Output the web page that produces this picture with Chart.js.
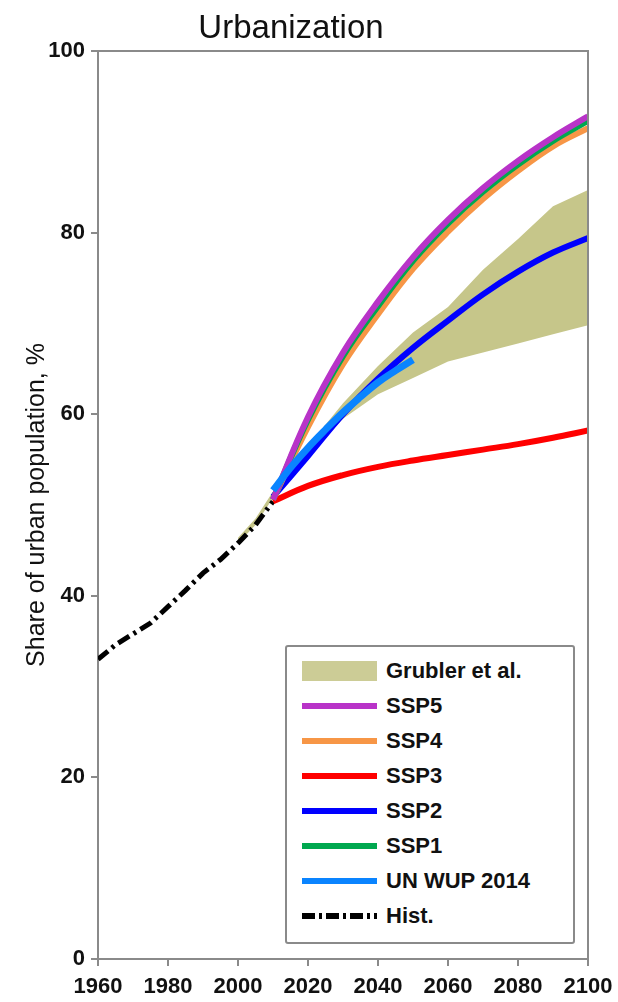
<!DOCTYPE html>
<html>
<head>
<meta charset="utf-8">
<script src="https://cdn.jsdelivr.net/npm/chart.js@4"></script>
<style>
  body { margin: 0; background: #fff; }
  #wrap { position: relative; width: 618px; height: 1002px; font-family: "Liberation Sans", Arial, sans-serif; }
  #title { position: absolute; left: 0; top: 10px; width: 582px; text-align: center; font-size: 33px; line-height: 33px; color: #111; }
  #legend { position: absolute; left: 285px; top: 645px; width: 290px; height: 299px; box-sizing: border-box;
            border: 2px solid #8a8a8a; border-radius: 3px; background: #fff; }
  .row { position: absolute; left: 0; height: 30px; width: 280px; }
  .sw { position: absolute; left: 15px; top: 12px; width: 75px; height: 6px; }
  .lbl { position: absolute; left: 99px; top: 0; line-height: 30px; white-space: nowrap; font-weight: bold; font-size: 22px; color: #111; }
</style>
</head>
<body>
<div id="wrap">
  <canvas id="chart" width="618" height="1002"></canvas>
  <div id="title">Urbanization</div>
  <div id="legend"></div>
</div>
<script>
// Дані
const histYears = [1960, 1965, 1970, 1975, 1980, 1985, 1990, 1995, 2000, 2005, 2010];
const histShare = [33, 34.6, 35.8, 37, 38.8, 40.6, 42.5, 44, 45.8, 47.8, 50.4];

const sspYears = [2010, 2020, 2030, 2040, 2050, 2060, 2070, 2080, 2090, 2100];
const ssp5 = [50.6, 59.7, 66.8, 72.4, 77.3, 81.4, 84.9, 87.9, 90.5, 92.8];
const ssp1 = [50.6, 59.4, 66.4, 71.9, 76.9, 81, 84.5, 87.5, 90.1, 92.3];
const ssp4 = [50.6, 58.6, 65.5, 71, 76, 80.1, 83.7, 86.8, 89.5, 91.5];
const ssp2 = [50.9, 55.4, 60, 63.9, 67.3, 70.3, 73.2, 75.7, 77.8, 79.4];
const ssp3 = [50.4, 52.1, 53.3, 54.2, 54.9, 55.5, 56.1, 56.7, 57.4, 58.2];

const wupYears = [2010, 2015, 2020, 2025, 2030, 2035, 2040, 2045, 2050];
const wup2014 = [51.6, 54.1, 56.3, 58.3, 60.2, 61.9, 63.5, 64.8, 66];

const grublerYears = [2000, 2005, 2010, 2020, 2030, 2040, 2050, 2060, 2070, 2080, 2090, 2100];
const grublerLow = [45.8, 47.8, 50.8, 55.5, 59.5, 62.2, 64, 65.8, 66.8, 67.8, 68.8, 69.8];
const grublerHigh = [46.4, 48.5, 51.5, 56.5, 61.2, 65.3, 69, 71.8, 75.9, 79.3, 82.9, 84.7];

const xTicks = [1960, 1980, 2000, 2020, 2040, 2060, 2080, 2100];
const yTicks = [0, 20, 40, 60, 80, 100];

const toPoints = (xs, ys) => xs.map((x, i) => ({ x: x, y: ys[i] }));

const band = "rgb(198, 198, 138)";
const colors = {
    ssp5: "#b833c8", ssp4: "#f79646", ssp3: "#ff0000",
    ssp2: "#0000ff", ssp1: "#00a84f", wup: "#0a84ff"
};

function line(label, xs, ys, color, width, order) {
    return {
        label: label, data: toPoints(xs, ys), borderColor: color, borderWidth: width,
        pointRadius: 0, fill: false, tension: 0.4, order: order
    };
}

const hist = line("Hist.", histYears, histShare, "#000", 5, 7);
hist.borderDash = [13, 5, 3, 5];
hist.tension = 0;

const datasets = [
    line("UN WUP 2014", wupYears, wup2014, colors.wup, 7, 1),
    line("SSP5", sspYears, ssp5, colors.ssp5, 6, 2),
    line("SSP1", sspYears, ssp1, colors.ssp1, 6, 3),
    line("SSP4", sspYears, ssp4, colors.ssp4, 6, 4),
    line("SSP2", sspYears, ssp2, colors.ssp2, 6, 5),
    line("SSP3", sspYears, ssp3, colors.ssp3, 6, 6),
    hist,
    { label: "lowband", data: toPoints(grublerYears, grublerLow), borderWidth: 0, pointRadius: 0,
      borderColor: band, backgroundColor: band, fill: false, tension: 0, order: 8 },
    { label: "Grubler et al.", data: toPoints(grublerYears, grublerHigh), borderWidth: 0, pointRadius: 0,
      borderColor: band, backgroundColor: band, fill: "-1", tension: 0, order: 9 }
];

// рамка навколо області графіка
const frame = {
    id: "frame",
    afterDraw(chart) {
        const a = chart.chartArea, ctx = chart.ctx;
        ctx.save();
        ctx.strokeStyle = "#8a8a8a";
        ctx.lineWidth = 2;
        ctx.beginPath();
        ctx.moveTo(a.left, a.top);
        ctx.lineTo(a.right, a.top);
        ctx.lineTo(a.right, a.bottom);
        ctx.stroke();
        ctx.restore();
    }
};

const tickFont = { family: "'Liberation Sans', Arial, sans-serif", size: 22, weight: "bold" };

new Chart(document.getElementById("chart").getContext("2d"), {
    type: "line",
    data: { datasets: datasets },
    plugins: [frame],
    options: {
        responsive: false,
        animation: false,
        layout: { padding: { top: 51, right: 30, left: 0, bottom: 0 } },
        plugins: { legend: { display: false }, tooltip: { enabled: false }, title: { display: false } },
        scales: {
            x: {
                type: "linear", min: 1960, max: 2100,
                afterBuildTicks: s => { s.ticks = xTicks.map(v => ({ value: v })); },
                afterFit: s => { s.height = 43; s.paddingLeft = 0; s.paddingRight = 0; },
                ticks: { font: tickFont, color: "#111", padding: 8, maxRotation: 0, callback: v => String(v) },
                grid: { drawOnChartArea: false, tickLength: 7, color: "#8a8a8a", lineWidth: 2 },
                border: { color: "#8a8a8a", width: 2 }
            },
            y: {
                min: 0, max: 100,
                afterBuildTicks: s => { s.ticks = yTicks.map(v => ({ value: v })); },
                afterFit: s => { s.width = 98; s.paddingTop = 0; s.paddingBottom = 0; },
                ticks: { font: tickFont, color: "#111", padding: 6 },
                grid: { drawOnChartArea: false, tickLength: 7, color: "#8a8a8a", lineWidth: 2 },
                border: { color: "#8a8a8a", width: 2 },
                title: { display: true, text: "Share of urban population, %", color: "#111",
                         font: { family: "'Liberation Sans', Arial, sans-serif", size: 25 },
                         padding: { top: 22, bottom: 0 } }
            }
        }
    }
});

// легенда
const legendItems = [
    ["Grubler et al.", "band"], ["SSP5", colors.ssp5], ["SSP4", colors.ssp4], ["SSP3", colors.ssp3],
    ["SSP2", colors.ssp2], ["SSP1", colors.ssp1], ["UN WUP 2014", colors.wup], ["Hist.", "hist"]
];
const legend = document.getElementById("legend");
legendItems.forEach((item, i) => {
    const row = document.createElement("div");
    row.className = "row";
    row.style.top = (8.7 + 35.05 * i) + "px";
    let sw;
    if (item[1] === "band") {
        sw = '<div class="sw" style="top:5px;height:20px;background:rgb(204,204,150)"></div>';
    } else if (item[1] === "hist") {
        sw = '<svg class="sw" style="top:12px;height:6px" width="75" height="6"><line x1="0" y1="3" x2="75" y2="3" stroke="#000" stroke-width="6" stroke-dasharray="13 4 3 4"/></svg>';
    } else {
        sw = '<div class="sw" style="background:' + item[1] + '"></div>';
    }
    row.innerHTML = sw + '<span class="lbl">' + item[0] + '</span>';
    legend.appendChild(row);
});
</script>
</body>
</html>
